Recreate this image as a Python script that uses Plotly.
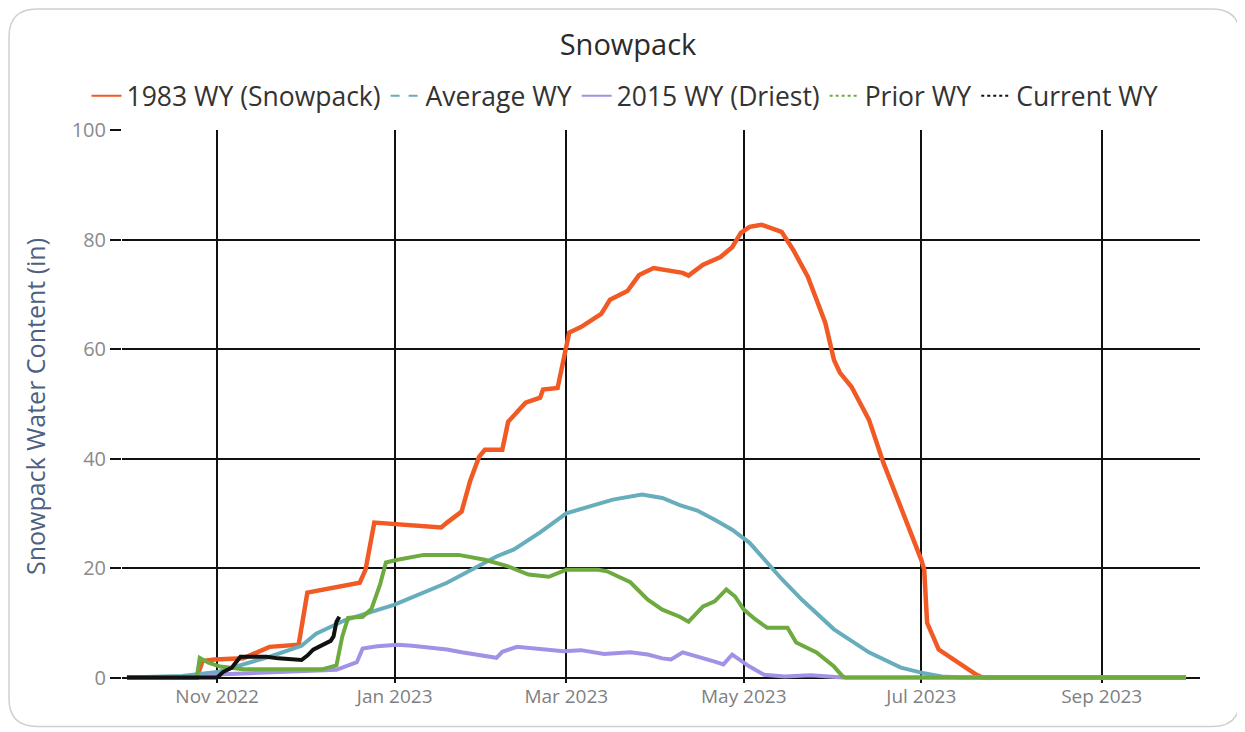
import plotly.graph_objects as go

# ---------------- data ----------------
dates_1983 = ["2022-10-01", "2022-10-25", "2022-10-27", "2022-10-31", "2022-11-10", "2022-11-19",
              "2022-11-29", "2022-12-02", "2022-12-20", "2022-12-22", "2022-12-25", "2023-01-01",
              "2023-01-17", "2023-01-19", "2023-01-24", "2023-01-27", "2023-01-30", "2023-02-01",
              "2023-02-07", "2023-02-09", "2023-02-15", "2023-02-20", "2023-02-21", "2023-02-26",
              "2023-02-28", "2023-03-02", "2023-03-06", "2023-03-13", "2023-03-16", "2023-03-22",
              "2023-03-26", "2023-03-31", "2023-04-10", "2023-04-12", "2023-04-17", "2023-04-23",
              "2023-04-27", "2023-04-30", "2023-05-03", "2023-05-07", "2023-05-14", "2023-05-18",
              "2023-05-23", "2023-05-29", "2023-06-01", "2023-06-03", "2023-06-07", "2023-06-13",
              "2023-06-18", "2023-06-24", "2023-07-01", "2023-07-02", "2023-07-03", "2023-07-07",
              "2023-07-13", "2023-07-20", "2023-07-22", "2023-09-30"]
swe_1983 = [0, 0, 3.0, 3.3, 3.5, 5.6,
            6.0, 15.5, 17.3, 19.7, 28.3, 28.0,
            27.4, 28.3, 30.3, 36.0, 40.3, 41.6,
            41.6, 46.7, 50.2, 51.1, 52.6, 52.9,
            58.0, 63.0, 64.0, 66.4, 69.0, 70.6,
            73.5, 74.8, 73.9, 73.4, 75.4, 76.8,
            78.6, 81.2, 82.3, 82.7, 81.4, 78.1,
            73.2, 64.8, 58.0, 55.7, 53.1, 47.1,
            39.2, 31.2, 21.5, 19.7, 10.0, 5.1,
            2.9, 0.5, 0, 0]

dates_avg = ["2022-10-01", "2022-10-20", "2022-11-01", "2022-11-19", "2022-11-30", "2022-12-05",
             "2022-12-15", "2022-12-24", "2023-01-01", "2023-01-19", "2023-02-05", "2023-02-11",
             "2023-02-20", "2023-03-01", "2023-03-12", "2023-03-17", "2023-03-27", "2023-04-03",
             "2023-04-09", "2023-04-15", "2023-04-21", "2023-04-27", "2023-05-03", "2023-05-09",
             "2023-05-14", "2023-05-21", "2023-06-01", "2023-06-13", "2023-06-24", "2023-07-01",
             "2023-07-08", "2023-07-15", "2023-09-30"]
swe_avg = [0, 0.3, 1.0, 3.8, 5.8, 8.0,
           10.5, 12.0, 13.3, 17.3, 22.1, 23.4,
           26.5, 30.0, 31.6, 32.5, 33.4, 32.8,
           31.5, 30.5, 28.8, 27.0, 24.6, 21.0,
           18.0, 14.2, 8.8, 4.6, 1.8, 0.9,
           0.2, 0, 0]

dates_2015 = ["2022-10-01", "2022-10-25", "2022-11-03", "2022-11-20", "2022-12-12", "2022-12-19",
              "2022-12-21", "2022-12-26", "2023-01-02", "2023-01-07", "2023-01-19", "2023-01-24",
              "2023-02-05", "2023-02-07", "2023-02-12", "2023-02-28", "2023-03-06", "2023-03-14",
              "2023-03-23", "2023-03-29", "2023-04-03", "2023-04-06", "2023-04-10", "2023-04-21",
              "2023-04-24", "2023-04-27", "2023-05-03", "2023-05-08", "2023-05-15", "2023-05-24",
              "2023-06-04", "2023-09-30"]
swe_2015 = [0, 0, 0.6, 1.0, 1.4, 2.8,
            5.3, 5.7, 6.0, 5.8, 5.1, 4.6,
            3.6, 4.7, 5.6, 4.8, 5.0, 4.3,
            4.6, 4.2, 3.5, 3.3, 4.6, 2.9,
            2.4, 4.2, 2.0, 0.5, 0.2, 0.4,
            0, 0]

dates_prior = ["2022-10-01", "2022-10-25", "2022-10-26", "2022-10-29", "2022-11-02", "2022-11-10",
               "2022-12-07", "2022-12-12", "2022-12-14", "2022-12-16", "2022-12-21", "2022-12-24",
               "2022-12-27", "2022-12-29", "2023-01-02", "2023-01-11", "2023-01-23", "2023-02-01",
               "2023-02-09", "2023-02-16", "2023-02-23", "2023-03-01", "2023-03-12", "2023-03-15",
               "2023-03-23", "2023-03-29", "2023-04-03", "2023-04-09", "2023-04-12", "2023-04-17",
               "2023-04-21", "2023-04-25", "2023-04-28", "2023-05-01", "2023-05-05", "2023-05-09",
               "2023-05-16", "2023-05-19", "2023-05-26", "2023-06-01", "2023-06-04", "2023-06-05",
               "2023-09-30"]
swe_prior = [0, 0, 3.6, 2.7, 2.0, 1.5,
             1.5, 2.2, 7.5, 10.9, 11.1, 12.5,
             17.0, 21.0, 21.5, 22.4, 22.4, 21.5,
             20.3, 18.8, 18.4, 19.7, 19.7, 19.4,
             17.4, 14.2, 12.4, 11.1, 10.2, 13.0,
             13.9, 16.1, 14.8, 12.4, 10.6, 9.1,
             9.1, 6.4, 4.6, 2.0, 0.2, 0,
             0]

dates_current = ["2022-10-01", "2022-11-01", "2022-11-03", "2022-11-06", "2022-11-09", "2022-11-18",
                 "2022-11-22", "2022-11-30", "2022-12-02", "2022-12-04", "2022-12-10", "2022-12-11",
                 "2022-12-12", "2022-12-13"]
swe_current = [0, 0, 1.0, 1.8, 3.8, 3.8,
               3.5, 3.2, 4.0, 5.1, 6.7, 7.5,
               10.2, 11.1]

series_names = ["1983 WY (Snowpack)", "Average WY", "2015 WY (Driest)", "Prior WY", "Current WY"]
y_ticks = [0, 20, 40, 60, 80, 100]

# ---------------- styling ----------------
colors = ["#F15A24", "#67ADBB", "#A391E6", "#6DAA40", "#111111"]
legend_dash = ["solid", "dash", "solid", "dot", "dot"]
widths = [4.5, 4, 4, 4, 4]
FONT = "Open Sans"

W, H = 1245, 732
OFF = 8  # page body margin offset
L, R, T = 122 - OFF, 45 + OFF, 130 - OFF
B = H - (683.5 - OFF)
pw, ph = W - L - R, H - T - B

fig = go.Figure()
all_series = [(dates_1983, swe_1983), (dates_avg, swe_avg), (dates_2015, swe_2015),
              (dates_prior, swe_prior), (dates_current, swe_current)]
for i, (xs, ys) in enumerate(all_series):
    fig.add_trace(go.Scatter(x=xs, y=ys, mode="lines", name=series_names[i],
                             legendgroup=series_names[i], showlegend=False,
                             line=dict(color=colors[i], width=widths[i])))
for i, nm in enumerate(series_names):
    fig.add_trace(go.Scatter(x=[None], y=[None], mode="lines", name=nm, legendgroup=nm,
                             showlegend=True,
                             line=dict(color=colors[i], width=2, dash=legend_dash[i])))

# rounded outer border (figure pixel coords -> paper coords)
def px(x):
    return (x - L) / pw

def py(y):
    return (H - B - y) / ph

x0, x1, y0, y1, r = 1, 1232, 1, 719, 28
path = (f"M {px(x0 + r)},{py(y0)} L {px(x1 - r)},{py(y0)} "
        f"Q {px(x1)},{py(y0)} {px(x1)},{py(y0 + r)} "
        f"L {px(x1)},{py(y1 - r)} Q {px(x1)},{py(y1)} {px(x1 - r)},{py(y1)} "
        f"L {px(x0 + r)},{py(y1)} Q {px(x0)},{py(y1)} {px(x0)},{py(y1 - r)} "
        f"L {px(x0)},{py(y0 + r)} Q {px(x0)},{py(y0)} {px(x0 + r)},{py(y0)} Z")
fig.add_shape(type="path", path=path, xref="paper", yref="paper",
              line=dict(color="#CFCFCF", width=1.5), layer="below")

fig.update_layout(
    width=W, height=H,
    margin=dict(l=L, r=R, t=T, b=B, autoexpand=False),
    paper_bgcolor="white", plot_bgcolor="white",
    font=dict(family=FONT, color="#333333"),
    title=dict(text="Snowpack", x=(628 - OFF) / W, xref="container", xanchor="center",
               y=1 - (45 - OFF) / H, yref="container", yanchor="middle",
               font=dict(size=29, color="#2B2B2B", family=FONT)),
    legend=dict(orientation="h", x=(625 - OFF) / W, xref="container", xanchor="center",
                y=1 - (96 - OFF) / H, yref="container", yanchor="middle",
                font=dict(size=26.5, color="#333333", family=FONT),
                bgcolor="rgba(0,0,0,0)", itemwidth=30, tracegroupgap=0),
    showlegend=True,
)
fig.update_xaxes(
    type="date", range=["2022-09-29 07:00", "2023-10-04 19:00"],
    tick0="2022-11-01", dtick="M2", tickformat="%b %Y",
    showgrid=True, gridcolor="#111111", gridwidth=2,
    ticks="", ticklen=0,
    tickfont=dict(size=19, color="#7F7F7F", family=FONT),
    showline=False, zeroline=False,
)
fig.update_yaxes(
    range=[-1, 100], tickvals=y_ticks,
    showgrid=True, gridcolor="#111111", gridwidth=2,
    zeroline=True, zerolinecolor="#111111", zerolinewidth=2,
    ticks="outside", ticklen=11, tickwidth=2, tickcolor="#111111",
    tickfont=dict(size=20, color="#8A8A8A", family=FONT),
    title=dict(text="Snowpack Water Content (in)", standoff=18,
               font=dict(size=25, color="#4E6080", family=FONT)),
    showline=False,
)

fig.write_html("out.html")
